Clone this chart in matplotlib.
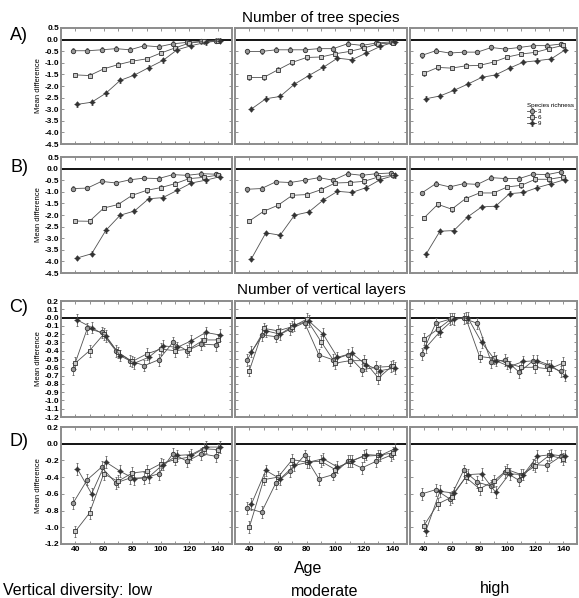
import matplotlib.pyplot as plt
from matplotlib.ticker import MultipleLocator, FormatStrFormatter

plt.rcParams["font.family"] = ["Liberation Sans", "DejaVu Sans"]
plt.rcParams["axes.unicode_minus"] = False

ages = [40, 50, 60, 70, 80, 90, 100, 110, 120, 130, 140]
richness = ["3", "6", "9"]
diversity = ["Vertical diversity: low", "moderate", "high"]
row_labels = ["A)", "B)", "C)", "D)"]
row_titles = ["Number of tree species", "Number of vertical layers"]

# each list: [low, moderate, high] vertical diversity panels
a_3 = [
    [-0.48, -0.48, -0.44, -0.39, -0.44, -0.26, -0.31, -0.18, -0.12, -0.08, -0.05],
    [-0.51, -0.51, -0.44, -0.44, -0.44, -0.39, -0.39, -0.18, -0.25, -0.15, -0.10],
    [-0.68, -0.48, -0.58, -0.54, -0.54, -0.34, -0.41, -0.34, -0.26, -0.26, -0.19],
]
a_6 = [
    [-1.52, -1.55, -1.26, -1.08, -0.93, -0.83, -0.58, -0.36, -0.15, -0.08, -0.05],
    [-1.63, -1.63, -1.30, -0.98, -0.77, -0.75, -0.61, -0.51, -0.36, -0.18, -0.15],
    [-1.45, -1.20, -1.23, -1.13, -1.11, -0.97, -0.75, -0.62, -0.55, -0.39, -0.25],
]
a_9 = [
    [-2.79, -2.70, -2.31, -1.76, -1.53, -1.21, -0.90, -0.44, -0.26, -0.12, -0.05],
    [-2.99, -2.55, -2.45, -1.92, -1.55, -1.20, -0.80, -0.87, -0.58, -0.29, -0.10],
    [-2.55, -2.43, -2.19, -1.92, -1.63, -1.52, -1.23, -0.97, -0.91, -0.83, -0.44],
]
b_3 = [
    [-0.86, -0.84, -0.55, -0.62, -0.48, -0.41, -0.43, -0.26, -0.29, -0.22, -0.24],
    [-0.89, -0.86, -0.57, -0.60, -0.50, -0.39, -0.50, -0.22, -0.29, -0.22, -0.19],
    [-1.05, -0.65, -0.79, -0.65, -0.68, -0.39, -0.43, -0.43, -0.24, -0.26, -0.14],
]
b_6 = [
    [-2.26, -2.27, -1.70, -1.55, -1.15, -0.94, -0.82, -0.65, -0.43, -0.38, -0.28],
    [-2.26, -1.84, -1.58, -1.15, -1.12, -0.91, -0.62, -0.60, -0.55, -0.36, -0.29],
    [-2.13, -1.54, -1.75, -1.29, -1.05, -1.05, -0.79, -0.72, -0.46, -0.46, -0.36],
]
b_9 = [
    [-3.85, -3.67, -2.66, -2.01, -1.83, -1.30, -1.25, -0.94, -0.62, -0.50, -0.35],
    [-3.88, -2.77, -2.87, -2.01, -1.87, -1.36, -0.98, -1.03, -0.82, -0.47, -0.29],
    [-3.69, -2.70, -2.67, -2.08, -1.65, -1.62, -1.08, -1.03, -0.82, -0.65, -0.47],
]
c_3 = [
    [-0.62, -0.13, -0.18, -0.40, -0.52, -0.58, -0.51, -0.30, -0.40, -0.32, -0.33],
    [-0.51, -0.21, -0.23, -0.14, -0.06, -0.45, -0.51, -0.45, -0.63, -0.60, -0.59],
    [-0.44, -0.07, -0.02, -0.01, -0.07, -0.54, -0.51, -0.66, -0.52, -0.58, -0.65],
]
c_6 = [
    [-0.55, -0.40, -0.20, -0.42, -0.53, -0.44, -0.38, -0.40, -0.38, -0.27, -0.27],
    [-0.64, -0.13, -0.16, -0.11, -0.02, -0.29, -0.55, -0.52, -0.52, -0.73, -0.58],
    [-0.26, -0.14, -0.01, 0.00, -0.47, -0.49, -0.55, -0.60, -0.60, -0.62, -0.55],
]
c_9 = [
    [-0.03, -0.12, -0.22, -0.46, -0.55, -0.48, -0.34, -0.36, -0.28, -0.18, -0.21],
    [-0.41, -0.16, -0.20, -0.09, -0.04, -0.20, -0.48, -0.43, -0.57, -0.64, -0.61],
    [-0.36, -0.17, -0.02, 0.00, -0.30, -0.52, -0.59, -0.53, -0.52, -0.58, -0.70],
]
d_3 = [
    [-0.71, -0.43, -0.28, -0.47, -0.41, -0.41, -0.36, -0.12, -0.21, -0.12, -0.15],
    [-0.77, -0.82, -0.47, -0.33, -0.14, -0.42, -0.37, -0.21, -0.29, -0.21, -0.14],
    [-0.60, -0.55, -0.66, -0.32, -0.46, -0.51, -0.34, -0.44, -0.25, -0.26, -0.15],
]
d_6 = [
    [-1.05, -0.83, -0.36, -0.45, -0.35, -0.33, -0.24, -0.19, -0.16, -0.06, -0.07],
    [-1.00, -0.43, -0.40, -0.19, -0.22, -0.21, -0.31, -0.21, -0.15, -0.14, -0.11],
    [-0.98, -0.72, -0.64, -0.40, -0.54, -0.45, -0.31, -0.37, -0.27, -0.14, -0.18],
]
d_9 = [
    [-0.30, -0.60, -0.22, -0.33, -0.42, -0.40, -0.25, -0.14, -0.13, -0.04, -0.04],
    [-0.72, -0.32, -0.42, -0.26, -0.22, -0.18, -0.28, -0.21, -0.13, -0.14, -0.06],
    [-1.04, -0.57, -0.59, -0.37, -0.36, -0.58, -0.36, -0.37, -0.15, -0.13, -0.15],
]
# approximate half-width of the error bars per row
row_err = [0.10, 0.10, 0.07, 0.07]

rows = [(a_3, a_6, a_9), (b_3, b_6, b_9), (c_3, c_6, c_9), (d_3, d_6, d_9)]

styles = [
    dict(marker="o", ms=3.2, mfc="#9a9a9a", mec="#333333", dx=-1.5),
    dict(marker="s", ms=3.0, mfc="#c8c8c8", mec="#333333", dx=0.0),
    dict(marker=(4, 1, 0), ms=4.0, mfc="#333333", mec="#333333", dx=1.5),
]

col_x = [(61, 232), (235, 407), (410, 577)]
row_y = [(28, 144), (157, 273), (301, 417), (427, 544)]
row_ylim = [(-4.5, 0.5), (-4.5, 0.5), (-1.2, 0.2), (-1.2, 0.2)]
row_ystep = [0.5, 0.5, 0.1, 0.2]

W, H = 579, 598
fig = plt.figure(figsize=(W / 100, H / 100), dpi=100)


def draw_panel(ax, series, r, c):
    for s, vals in enumerate(series):
        st = styles[s]
        ax.errorbar(
            [a + st["dx"] for a in ages],
            vals[c],
            yerr=row_err[r],
            color="#505050",
            lw=0.6,
            elinewidth=0.55,
            ecolor="#606060",
            capsize=0.8,
            capthick=0.5,
            marker=st["marker"],
            ms=st["ms"],
            mfc=st["mfc"],
            mec=st["mec"],
            mew=0.6,
            label=richness[s],
            zorder=3,
        )
    ax.axhline(0, color="black", lw=1.3, zorder=2)
    ax.set_xlim(30, 150)
    ax.set_ylim(*row_ylim[r])
    ax.yaxis.set_major_locator(MultipleLocator(row_ystep[r]))
    ax.yaxis.set_major_formatter(FormatStrFormatter("%.1f"))
    ax.xaxis.set_major_locator(MultipleLocator(20))
    ax.xaxis.set_minor_locator(MultipleLocator(10))
    ax.tick_params(which="both", direction="in", length=2, width=0.5,
                   color="#666666", top=True, right=True,
                   labelsize=6, pad=1.5)
    for sp in ax.spines.values():
        sp.set_color("#8c8c8c")
        sp.set_linewidth(1.4)
    if c == 0:
        ax.set_ylabel("Mean difference", fontsize=5.5, labelpad=1.5)
        for lab in ax.get_yticklabels():
            lab.set_fontweight("bold")
    else:
        ax.tick_params(labelleft=False)
    if r == 3:
        for lab in ax.get_xticklabels():
            lab.set_fontweight("bold")
    else:
        ax.tick_params(labelbottom=False)


for r in range(4):
    for c in range(3):
        x0, x1 = col_x[c]
        y0, y1 = row_y[r]
        ax = fig.add_axes([x0 / W, 1 - y1 / H, (x1 - x0) / W, (y1 - y0) / H])
        draw_panel(ax, rows[r], r, c)
        if r == 0 and c == 2:
            leg = ax.legend(title="Species richness", loc="upper left",
                            bbox_to_anchor=(0.68, 0.39), frameon=False,
                            fontsize=4.5, title_fontsize=4.5,
                            handlelength=1.4, labelspacing=0.15,
                            borderpad=0.1, handletextpad=0.3)
            leg._legend_box.align = "left"

fig.text(321 / W, 1 - 18 / H, row_titles[0], ha="center", va="center", fontsize=11)
fig.text(321 / W, 1 - 290 / H, row_titles[1], ha="center", va="center", fontsize=11)

for lab, y in zip(row_labels, [36, 168, 308, 442]):
    fig.text(19 / W, 1 - y / H, lab, ha="center", va="center", fontsize=13)

fig.text(308 / W, 1 - 568 / H, "Age", ha="center", va="center", fontsize=11.5)
fig.text(3 / W, 1 - 591 / H, diversity[0], ha="left", va="center", fontsize=11.5)
fig.text(325 / W, 1 - 592 / H, diversity[1], ha="center", va="center", fontsize=11.5)
fig.text(495 / W, 1 - 588 / H, diversity[2], ha="center", va="center", fontsize=11.5)

fig.savefig("out.png", dpi=100)
